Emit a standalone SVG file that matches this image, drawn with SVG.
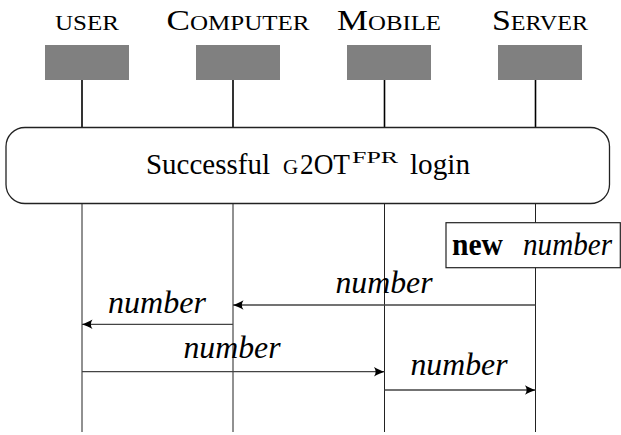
<svg xmlns="http://www.w3.org/2000/svg" width="621" height="435" viewBox="0 0 621 435">
<style>
  .lbl { font-family: "Liberation Serif", "Times New Roman", serif; fill: #000; }
  .head { font-size: 21px; }
  .big { font-size: 29.5px; }
  .box { fill: #808080; stroke: none; }
  .lifeTop { stroke: #000; stroke-width: 1.6; }
  .life { stroke: #222; stroke-width: 1; }
  .msg { stroke: #444; stroke-width: 1.3; fill: none; marker-end: url(#ah); }
  .it { font-family: "Liberation Serif", "Times New Roman", serif; font-style: italic; font-size: 31px; fill: #000; }
  .frame { fill: #fff; stroke: #222; stroke-width: 1.3; }
</style>
<defs>
  <marker id="ah" markerUnits="userSpaceOnUse" viewBox="-12 -6 13 12" refX="0" refY="0" markerWidth="13" markerHeight="12" orient="auto">
    <path d="M0,0 C-3,-1 -7,-2.8 -10.5,-4.8 C-8.3,-1.6 -8.3,1.6 -10.5,4.8 C-7,2.8 -3,1 0,0 Z" fill="#000"/>
  </marker>
</defs>
<rect width="621" height="435" fill="#fff"/>

<g id="user">
  <text class="lbl head" x="87" y="30" text-anchor="middle" textLength="64" lengthAdjust="spacingAndGlyphs">USER</text>
  <rect class="box" x="45" y="45" width="84" height="35"/>
  <line class="lifeTop" x1="82" y1="80" x2="82" y2="128"/>
  <line class="life" x1="82" y1="203" x2="82" y2="432"/>
</g>
<g id="computer">
  <text class="lbl head" x="238" y="30" text-anchor="middle" textLength="143" lengthAdjust="spacingAndGlyphs"><tspan class="big">C</tspan>OMPUTER</text>
  <rect class="box" x="196" y="45" width="84" height="35"/>
  <line class="lifeTop" x1="233" y1="80" x2="233" y2="128"/>
  <line class="life" x1="233" y1="203" x2="233" y2="432"/>
</g>
<g id="mobile">
  <text class="lbl head" x="389" y="30" text-anchor="middle" textLength="104" lengthAdjust="spacingAndGlyphs"><tspan class="big">M</tspan>OBILE</text>
  <rect class="box" x="347" y="45" width="84" height="35"/>
  <line class="lifeTop" x1="384.5" y1="80" x2="384.5" y2="128"/>
  <line class="life" x1="384.5" y1="203" x2="384.5" y2="432"/>
</g>
<g id="server">
  <text class="lbl head" x="540" y="30" text-anchor="middle" textLength="96" lengthAdjust="spacingAndGlyphs"><tspan class="big">S</tspan>ERVER</text>
  <rect class="box" x="498" y="45" width="84" height="35"/>
  <line class="lifeTop" x1="535.5" y1="80" x2="535.5" y2="128"/>
  <line class="life" x1="535.5" y1="203" x2="535.5" y2="432"/>
</g>

<g id="login">
  <rect class="frame" x="6" y="127.5" width="603.5" height="76" rx="19" ry="19"/>
  <text class="lbl" y="174" font-size="29.5"><tspan x="146" textLength="124" lengthAdjust="spacingAndGlyphs">Successful</tspan><tspan x="283" font-size="21">G</tspan><tspan x="300" textLength="50" lengthAdjust="spacingAndGlyphs">2OT</tspan><tspan x="352" y="162.5" font-size="16" textLength="46" lengthAdjust="spacingAndGlyphs">FPR</tspan><tspan x="410" y="174" textLength="60" lengthAdjust="spacingAndGlyphs">login</tspan></text>
</g>

<g id="new-number">
  <rect x="446" y="222.7" width="174.3" height="45" fill="#fff" stroke="#222" stroke-width="1.2"/>
  <text class="lbl" y="255" font-size="31"><tspan x="452" font-weight="bold" textLength="51" lengthAdjust="spacingAndGlyphs">new</tspan><tspan x="523" font-style="italic" textLength="89" lengthAdjust="spacingAndGlyphs">number</tspan></text>
</g>

<g id="connectors">
  <line class="msg" x1="535.5" y1="305" x2="233" y2="305"/>
  <text class="it" x="384" y="293" text-anchor="middle" textLength="97" lengthAdjust="spacingAndGlyphs">number</text>
  <line class="msg" x1="233" y1="324.3" x2="82" y2="324.3"/>
  <text class="it" x="157" y="313" text-anchor="middle" textLength="98" lengthAdjust="spacingAndGlyphs">number</text>
  <line class="msg" x1="82" y1="371.7" x2="384.5" y2="371.7"/>
  <text class="it" x="232" y="357.5" text-anchor="middle" textLength="97" lengthAdjust="spacingAndGlyphs">number</text>
  <line class="msg" x1="384.5" y1="390" x2="535.5" y2="390"/>
  <text class="it" x="459" y="375" text-anchor="middle" textLength="97" lengthAdjust="spacingAndGlyphs">number</text>
</g>
</svg>
